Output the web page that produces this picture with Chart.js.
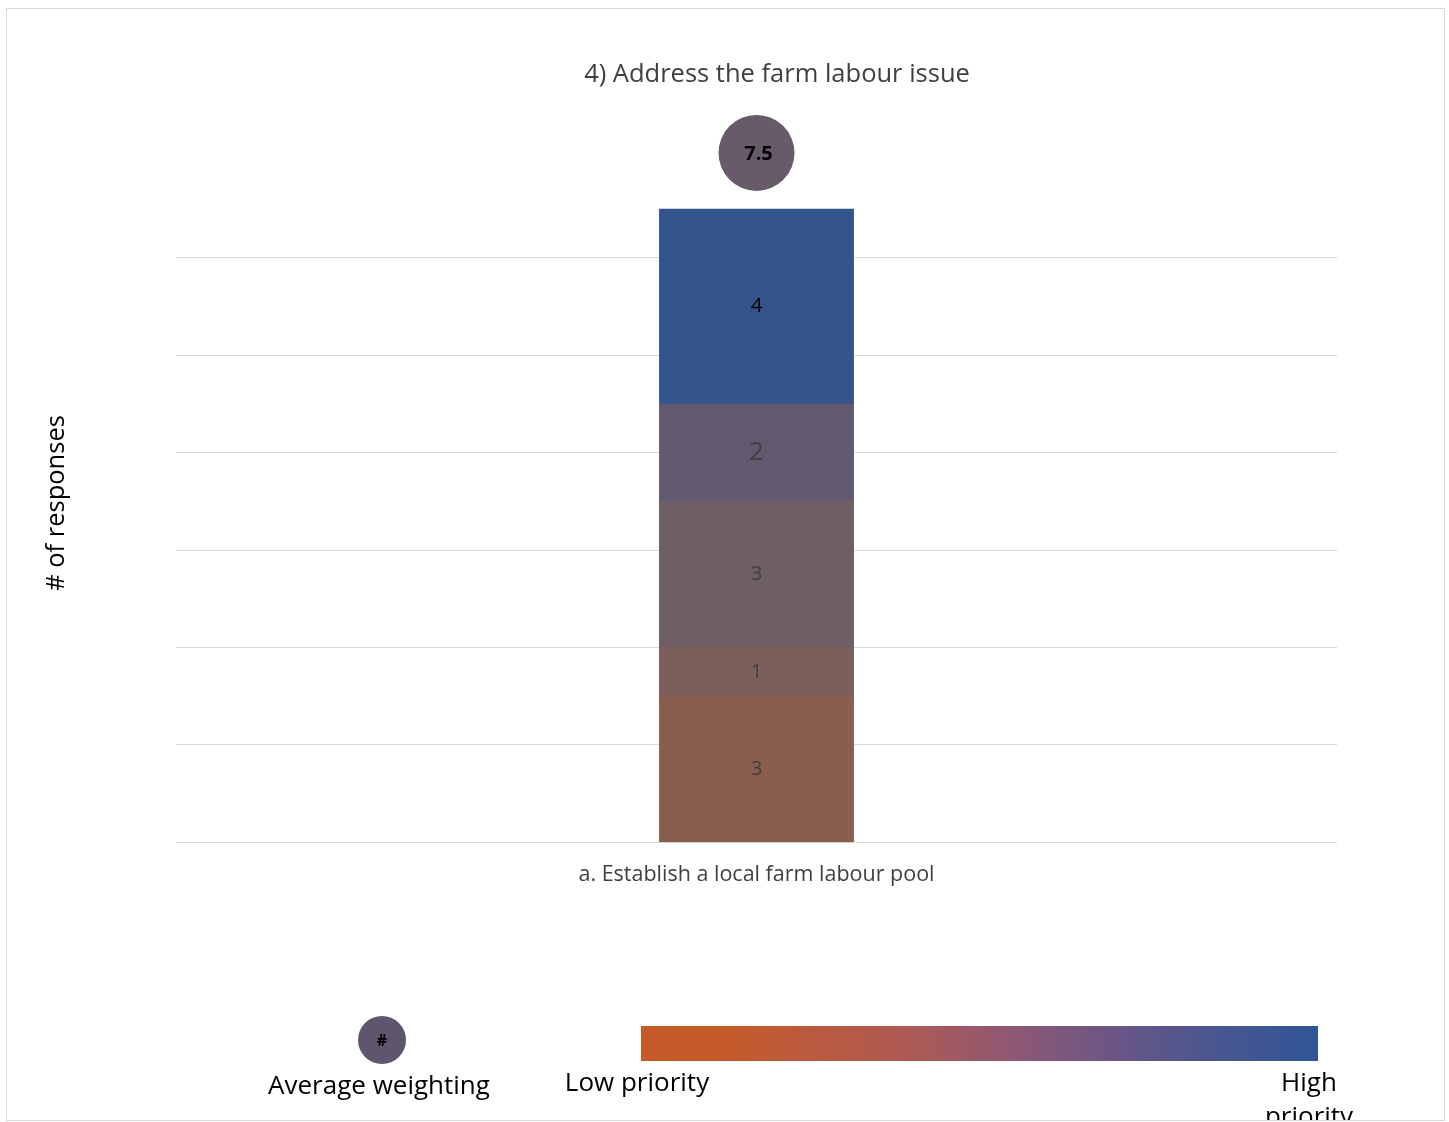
<!DOCTYPE html>
<html>
<head>
<meta charset="utf-8">
<script src="https://cdn.jsdelivr.net/npm/chart.js@4.4.1/dist/chart.umd.min.js"></script>
<style>
  html, body { margin: 0; padding: 0; background: #ffffff; }
  #wrap { position: relative; width: 1449px; height: 1122px; }
  canvas { display: block; }
</style>
</head>
<body>
<div id="wrap"><canvas id="chart" width="1449" height="1122"></canvas></div>
<script>
// Survey item and its response counts per priority level (low -> high)
const categories = ['a. Establish a local farm labour pool'];
const priorityLevels = ['Priority 1', 'Priority 2', 'Priority 3', 'Priority 4', 'Priority 5'];
const responsesP1 = [3];
const responsesP2 = [1];
const responsesP3 = [3];
const responsesP4 = [2];
const responsesP5 = [4];
const averageWeighting = [7.5];

const chartTitle = '4) Address the farm labour issue';
const yAxisTitle = '# of responses';

const FONT = '"Open Sans", Lato, sans-serif';
const segmentColors = ['#8a5e4f', '#7b5f5a', '#6e5e66', '#615970', '#33558c'];
const labelStyles = [
  { size: 20.5, color: '#404040' },
  { size: 20.5, color: '#404040' },
  { size: 20.5, color: '#404040' },
  { size: 26, color: '#404040' },
  { size: 20.5, color: '#000000' }
];
const seriesValues = [responsesP1, responsesP2, responsesP3, responsesP4, responsesP5];

const barDatasets = seriesValues.map((vals, i) => ({
  type: 'bar',
  label: priorityLevels[i],
  data: vals,
  backgroundColor: segmentColors[i],
  borderWidth: 0,
  inflateAmount: 0.5,
  barPercentage: 0.167,
  categoryPercentage: 1,
  yAxisID: 'y',
  order: 2
}));

// Count labels in the middle of each stacked segment
const segmentLabels = {
  id: 'segmentLabels',
  afterDatasetsDraw(chart) {
    const ctx = chart.ctx;
    ctx.save();
    ctx.textAlign = 'center';
    ctx.textBaseline = 'middle';
    chart.data.datasets.forEach((ds, di) => {
      if (ds.type !== 'bar') return;
      const meta = chart.getDatasetMeta(di);
      meta.data.forEach((bar, idx) => {
        const st = labelStyles[di];
        ctx.font = st.size + 'px ' + FONT;
        ctx.fillStyle = st.color;
        const cy = (bar.y + bar.base) / 2;
        ctx.fillText(String(ds.data[idx]), bar.x, cy);
      });
    });
    // Average weighting inside the bubble
    chart.data.datasets.forEach((ds, di) => {
      if (ds.type !== 'line') return;
      const meta = chart.getDatasetMeta(di);
      meta.data.forEach((pt, idx) => {
        ctx.font = 'bold 20px ' + FONT;
        ctx.fillStyle = '#000000';
        ctx.fillText(String(ds.data[idx]), pt.x + 2, pt.y + 1);
      });
    });
    ctx.restore();
  }
};

// Frame, title, axis title and the colour key along the bottom
const decorations = {
  id: 'decorations',
  beforeDraw(chart) {
    const ctx = chart.ctx;
    ctx.save();
    ctx.fillStyle = '#ffffff';
    ctx.fillRect(0, 0, chart.width, chart.height);
    ctx.restore();
  },
  afterDraw(chart) {
    const ctx = chart.ctx;
    ctx.save();
    ctx.textAlign = 'center';
    ctx.textBaseline = 'middle';

    ctx.font = '25.5px ' + FONT;
    ctx.fillStyle = '#404040';
    ctx.fillText(chartTitle, 777, 75);

    ctx.save();
    ctx.translate(57, 503);
    ctx.rotate(-Math.PI / 2);
    ctx.font = '25.5px ' + FONT;
    ctx.fillStyle = '#000000';
    ctx.fillText(yAxisTitle, 0, 0);
    ctx.restore();

    // key: average weighting marker
    ctx.beginPath();
    ctx.arc(382, 1040, 24, 0, Math.PI * 2);
    ctx.fillStyle = '#5f566d';
    ctx.fill();
    ctx.font = 'bold 16px ' + FONT;
    ctx.fillStyle = '#000000';
    ctx.fillText('#', 382, 1041);

    // key: priority gradient
    const gx0 = 641, gx1 = 1318;
    const grad = ctx.createLinearGradient(gx0, 0, gx1, 0);
    grad.addColorStop(0, '#c55a28');
    grad.addColorStop(0.13, '#c45a2a');
    grad.addColorStop(0.4, '#ad5a55');
    grad.addColorStop(0.55, '#8e5873');
    grad.addColorStop(0.7, '#6a5686');
    grad.addColorStop(0.85, '#4a5690');
    grad.addColorStop(1, '#2f5597');
    ctx.fillStyle = grad;
    ctx.fillRect(gx0, 1026, gx1 - gx0, 35);

    ctx.save();
    ctx.beginPath();
    ctx.rect(7, 9, 1437, 1111);
    ctx.clip();
    ctx.font = '26px ' + FONT;
    ctx.fillStyle = '#000000';
    ctx.fillText('Average weighting', 379, 1087);
    ctx.fillText('Low priority', 637, 1084);
    ctx.fillText('High', 1309, 1084);
    ctx.fillText('priority', 1309, 1118);
    ctx.restore();

    // outer frame
    ctx.strokeStyle = '#d9d9d9';
    ctx.lineWidth = 1;
    ctx.strokeRect(6.5, 8.5, 1438, 1112);
    ctx.restore();
  }
};

new Chart(document.getElementById('chart'), {
  data: {
    labels: categories,
    datasets: [
      ...barDatasets,
      {
        type: 'line',
        label: 'Average weighting',
        data: averageWeighting,
        yAxisID: 'yAvg',
        showLine: false,
        pointRadius: 38,
        pointHoverRadius: 38,
        pointBackgroundColor: '#675b6a',
        pointBorderWidth: 0,
        order: 1
      }
    ]
  },
  options: {
    responsive: false,
    animation: false,
    events: [],
    layout: { padding: { left: 176, right: 112, top: 107, bottom: 214 } },
    plugins: {
      legend: { display: false },
      title: { display: false },
      tooltip: { enabled: false }
    },
    scales: {
      x: {
        stacked: true,
        grid: { display: false, drawTicks: false },
        border: { display: false },
        ticks: {
          padding: 20,
          color: '#404040',
          font: { family: FONT, size: 21.5 }
        }
      },
      y: {
        stacked: true,
        min: 0,
        max: 15.1,
        ticks: { display: false, stepSize: 2 },
        grid: {
          drawTicks: false,
          lineWidth: 1,
          color: (c) => (c.tick && c.tick.value <= 12 ? '#d9d9d9' : 'rgba(0,0,0,0)')
        },
        border: { display: false }
      },
      yAvg: {
        display: false,
        min: 0,
        max: 8
      }
    }
  },
  plugins: [decorations, segmentLabels]
});
</script>
</body>
</html>
